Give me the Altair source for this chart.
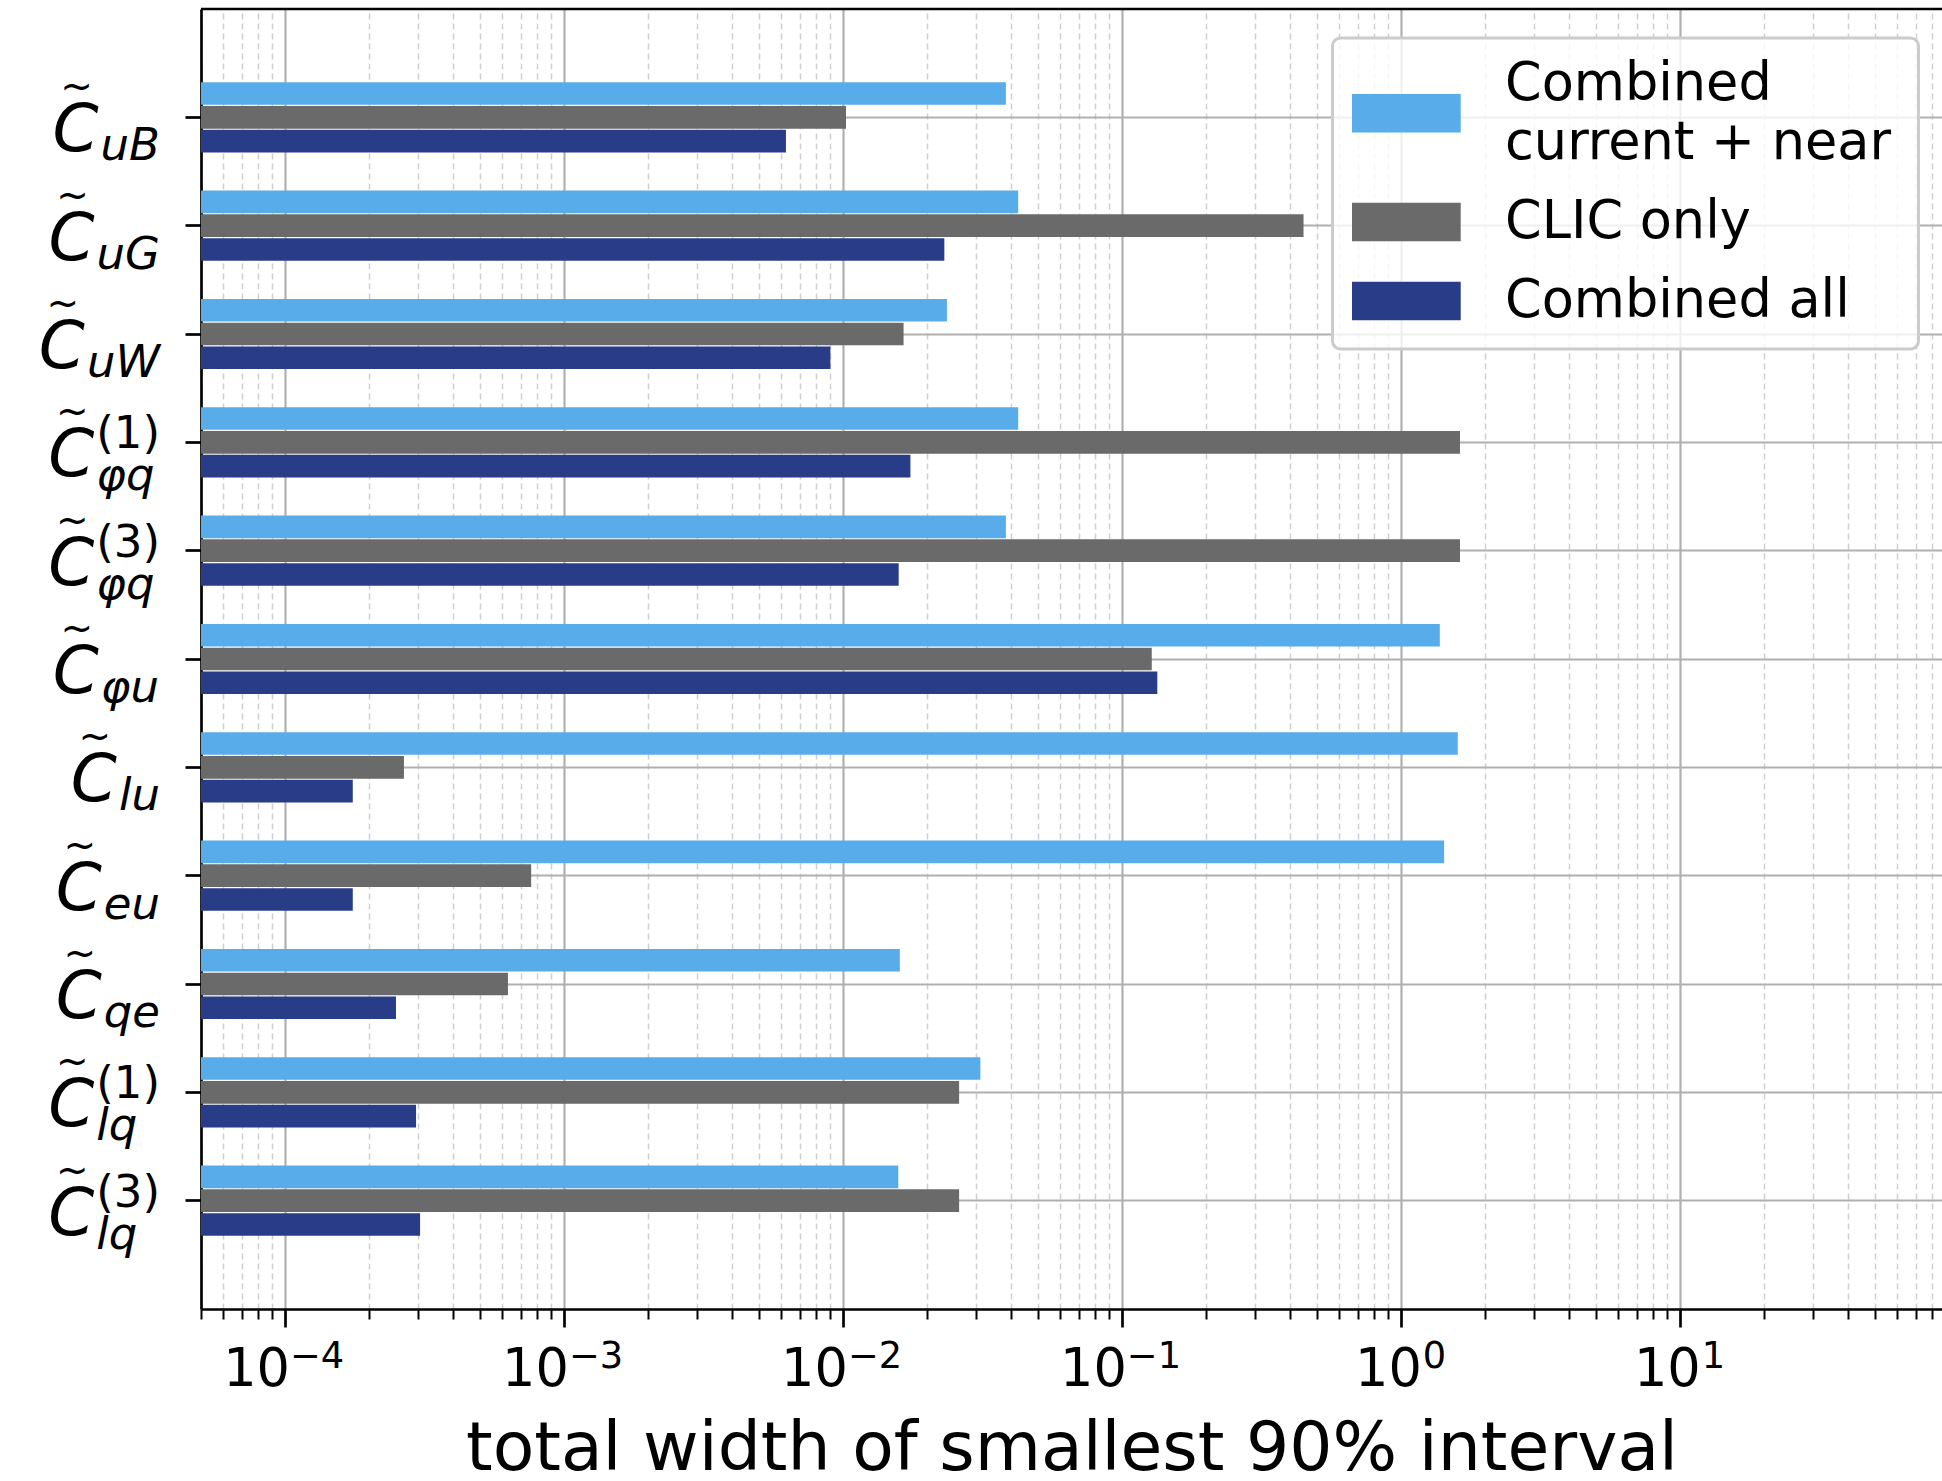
import altair as alt
import pandas as pd

FONT = "DejaVu Sans"

# Wilson coefficients (top to bottom): subscript and optional superscript of C~
coef_sub = ["uB", "uG", "uW", "φq", "φq", "φu", "lu", "eu", "qe", "lq", "lq"]
coef_sup = ["", "", "", "(1)", "(3)", "", "", "", "", "(1)", "(3)"]

series = ["Combined current + near", "CLIC only", "Combined all"]
series_lines = [["Combined", "current + near"], ["CLIC only"], ["Combined all"]]
colors = ["#58ACE9", "#6A6A6A", "#293C87"]

# total width of the smallest 90% interval for each coefficient
width_current_near = [0.0384, 0.0425, 0.0236, 0.0425, 0.0384, 1.38, 1.60, 1.43, 0.0160, 0.0311, 0.0158]
width_clic = [0.01026, 0.448, 0.0165, 1.63, 1.63, 0.128, 2.67e-4, 7.63e-4, 6.3e-4, 0.0261, 0.0261]
width_all = [0.00625, 0.0231, 0.00902, 0.01746, 0.01585, 0.134, 1.75e-4, 1.75e-4, 2.5e-4, 2.95e-4, 3.05e-4]

# x tick labels: 10^k
decades = [1e-4, 1e-3, 1e-2, 1e-1, 1e0, 1e1]
exponents = ["−4", "−3", "−2", "−1", "0", "1"]

X_MIN, X_MAX = 5e-5, 87.1
PLOT_W, PLOT_H = 1741, 1300
BASE_SIZE = 52.5
SMALL_SIZE = 36.75
BAR_STEP = 23.8
BAR_THICK = 22.6

coef_keys = [f"C_{s}^{p}" if p else f"C_{s}" for s, p in zip(coef_sub, coef_sup)]

# --- y label layout (pixel offsets left of the plot area) ---
MAIN_SIZE = 66
SUB_SIZE = 45
ADV = {"u": 0.634, "B": 0.686, "G": 0.775, "W": 0.989, "φ": 0.68, "q": 0.635,
       "l": 0.278, "e": 0.615, "(": 0.39, ")": 0.39, "1": 0.636, "3": 0.636}


def text_width(s, size):
    return sum(ADV.get(ch, 0.6) for ch in s) * size


LABEL_RIGHT = -41
lab_rows = []
for key, sub, sup in zip(coef_keys, coef_sub, coef_sup):
    w = max(text_width(sub, SUB_SIZE), text_width(sup, SUB_SIZE))
    sx = LABEL_RIGHT - w
    lab_rows.append({"coef": key, "sub": sub, "sup": sup, "sx": sx,
                     "cx": sx - 2, "tx": sx - 24})
labels_df = pd.DataFrame(lab_rows)

ticklab_df = pd.DataFrame({"width": decades, "exp": exponents,
                           "neg": [e.startswith("−") for e in exponents]})

# --- x axis ticks: decades and 2..9 minors ---
ticks = []
for e in range(-5, 2):
    for k in range(1, 10):
        v = float(f"{k}e{e}")
        if X_MIN * 0.999 <= v <= X_MAX:
            ticks.append(v)

LOG = "(log(datum.value)/LN10)"
IS_MAJOR = f"abs({LOG} - round({LOG})) < 1e-6"

x_scale = alt.Scale(type="log", domain=[X_MIN, X_MAX], nice=False)

x_axis = alt.Axis(
    values=ticks, labels=False,
    tickColor="black",
    tickSize={"condition": {"test": IS_MAJOR, "value": 18}, "value": 10},
    tickWidth={"condition": {"test": IS_MAJOR, "value": 2.7}, "value": 2},
    grid=True,
    gridColor={"condition": {"test": IS_MAJOR, "value": "#b0b0b0"}, "value": "#cfcfcf"},
    gridDash={"condition": {"test": IS_MAJOR, "value": []}, "value": [6, 4]},
    gridWidth={"condition": {"test": IS_MAJOR, "value": 2.2}, "value": 1.5},
    domainColor="black", domainWidth=2.7,
    title="total width of smallest 90% interval",
    titleFont=FONT, titleFontSize=68, titleFontWeight="normal", titleColor="black",
    titleBaseline="alphabetic", titleY=160,
)

y_scale = alt.Scale(domain=coef_keys, paddingInner=0.34, paddingOuter=0.67)
y_axis = alt.Axis(labels=False, title=None, ticks=True, tickSize=16, tickWidth=2.7,
                  tickColor="black", domainColor="black", domainWidth=2.7,
                  grid=True, gridColor="#b0b0b0", gridWidth=2.2)
y_enc = alt.Y("coef:N", sort=coef_keys, scale=y_scale, axis=y_axis)
color_scale = alt.Scale(domain=series, range=colors)
x_enc = alt.X("width:Q", scale=x_scale, axis=x_axis)

# one layer of thick horizontal bars per series, stacked top-to-bottom inside
# each coefficient's band; bars grow from the left edge of the log axis
bar_layers = []
for i, (name, vals) in enumerate(zip(series, (width_current_near, width_clic, width_all))):
    df = pd.DataFrame({"coef": coef_keys, "width": vals, "series": [name] * len(vals)})
    bar_layers.append(
        alt.Chart(df).mark_rule(strokeWidth=BAR_THICK, strokeCap="butt",
                                yOffset=(i - 1) * BAR_STEP)
        .encode(
            x=x_enc,
            x2=alt.value(0),
            y=y_enc,
            color=alt.Color("series:N", sort=series, scale=color_scale, legend=None),
        )
    )

# top spine of the frame
top_spine = alt.Chart(pd.DataFrame({"k": [0]})).mark_rule(
    color="black", strokeWidth=2.7).encode(
    x=alt.value(0), x2=alt.value(PLOT_W), y=alt.value(0))

# x tick labels written as 10 with a raised exponent
tl = alt.Chart(ticklab_df)
tick_parts = []
for is_neg, ten_dx, exp_dx in ((True, 5, 5), (False, 21, 22)):
    flt = "datum.neg" if is_neg else "!datum.neg"
    tick_parts.append(tl.transform_filter(flt).mark_text(
        text="10", font=FONT, fontSize=BASE_SIZE, align="right", baseline="alphabetic",
        dx=ten_dx, color="black").encode(
        x=alt.X("width:Q", scale=x_scale, axis=x_axis), y=alt.value(PLOT_H + 77)))
    tick_parts.append(tl.transform_filter(flt).mark_text(
        font=FONT, fontSize=SMALL_SIZE, align="left", baseline="alphabetic",
        dx=exp_dx, color="black").encode(
        x=alt.X("width:Q", scale=x_scale, axis=x_axis), y=alt.value(PLOT_H + 59),
        text="exp:N"))

# y labels: C~ with italic subscript and optional upright superscript
lab = alt.Chart(labels_df)
main_c = lab.mark_text(text="C", font=FONT, fontSize=MAIN_SIZE, fontStyle="italic",
                       align="right", baseline="alphabetic", dy=34, color="black").encode(
    x=alt.X("cx:Q", scale=None), y=y_enc)
tilde = lab.mark_text(text="~", font=FONT, fontSize=39, align="center",
                      baseline="alphabetic", dy=-18, color="black").encode(
    x=alt.X("tx:Q", scale=None), y=y_enc)
sub_plain = lab.transform_filter("datum.sup == ''").mark_text(
    font=FONT, fontSize=SUB_SIZE, fontStyle="italic", align="left",
    baseline="alphabetic", dy=43, color="black").encode(
    x=alt.X("sx:Q", scale=None), y=y_enc, text="sub:N")
sub_low = lab.transform_filter("datum.sup != ''").mark_text(
    font=FONT, fontSize=SUB_SIZE, fontStyle="italic", align="left",
    baseline="alphabetic", dy=48, color="black").encode(
    x=alt.X("sx:Q", scale=None), y=y_enc, text="sub:N")
sup = lab.transform_filter("datum.sup != ''").mark_text(
    font=FONT, fontSize=SUB_SIZE, align="left",
    baseline="alphabetic", dy=6, color="black").encode(
    x=alt.X("sx:Q", scale=None), y=y_enc, text="sup:N")

# --- legend box in the upper right of the plot area ---
LEG_L, LEG_R, LEG_T, LEG_B = 1131.5, 1717.5, 29, 340
SW_L, SW_R, SW_H = 1151, 1259.7, 38.5
LEG_TEXT_X = 1304
FIRST_BASELINE, LINE_GAP, ENTRY_GAP = 90.7, 59.3, 79

sw_rows, txt_rows = [], []
baseline = FIRST_BASELINE
for name, lines in zip(series, series_lines):
    first = baseline
    for ln in lines:
        txt_rows.append({"line": ln, "ty": baseline})
        last = baseline
        baseline += LINE_GAP
    centre = (first + last) / 2 - 16
    sw_rows.append({"series": name, "y0": centre - SW_H / 2, "y1": centre + SW_H / 2})
    baseline = last + ENTRY_GAP
sw_df = pd.DataFrame(sw_rows)
txt_df = pd.DataFrame(txt_rows)

leg_box = alt.Chart(pd.DataFrame({"k": [0]})).mark_rect(
    cornerRadius=8, fill="white", fillOpacity=0.8, stroke="#cccccc", strokeWidth=3).encode(
    x=alt.value(LEG_L), x2=alt.value(LEG_R), y=alt.value(LEG_T), y2=alt.value(LEG_B))
leg_sw = alt.Chart(sw_df).mark_rect().encode(
    x=alt.value(SW_L), x2=alt.value(SW_R),
    y=alt.Y("y0:Q", scale=None), y2="y1:Q",
    color=alt.Color("series:N", sort=series, scale=color_scale, legend=None))
leg_txt = alt.Chart(txt_df).mark_text(
    font=FONT, fontSize=BASE_SIZE, align="left", baseline="alphabetic", color="black").encode(
    x=alt.value(LEG_TEXT_X), y=alt.Y("ty:Q", scale=None), text="line:N")

chart = alt.layer(
    *bar_layers, top_spine, *tick_parts, main_c, tilde, sub_plain, sub_low, sup,
    leg_box, leg_sw, leg_txt,
).properties(
    width=PLOT_W, height=PLOT_H,
    padding={"left": 201, "top": 9, "right": 0, "bottom": 172},
    autosize=alt.AutoSizeParams(type="none"),
    background="white",
).configure_view(stroke=None)

chart.save("out.html", embed_options={"renderer": "svg", "actions": False})
